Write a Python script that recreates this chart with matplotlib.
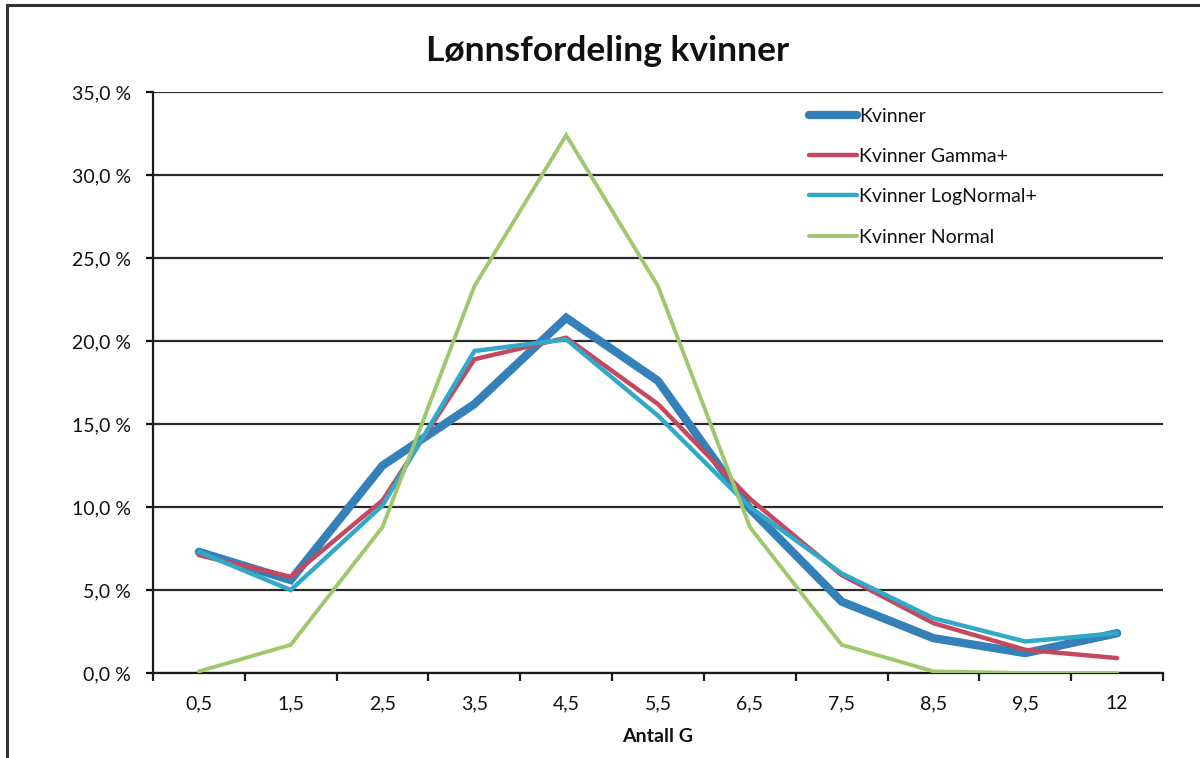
import matplotlib
matplotlib.use("Agg")
import matplotlib.pyplot as plt
from matplotlib.lines import Line2D
from matplotlib.ticker import FuncFormatter

plt.rcParams['font.family'] = ['Lato', 'DejaVu Sans']

# Andel kvinner per lønnsintervall (antall G), i prosent
kategorier = ["0,5", "1,5", "2,5", "3,5", "4,5", "5,5", "6,5", "7,5", "8,5", "9,5", "12"]
kvinner = [7.3, 5.6, 12.5, 16.2, 21.4, 17.6, 9.9, 4.3, 2.1, 1.2, 2.4]
gamma = [7.1, 5.8, 10.4, 18.9, 20.2, 16.2, 10.5, 5.9, 3.0, 1.4, 0.9]
lognormal = [7.3, 5.0, 10.1, 19.4, 20.1, 15.5, 10.0, 6.0, 3.3, 1.9, 2.4]
normal = [0.1, 1.7, 8.8, 23.3, 32.4, 23.3, 8.8, 1.7, 0.1, 0.0, 0.0]

serier = [
    ("Kvinner", kvinner, '#3480b9', 6.0),
    ("Kvinner Gamma+", gamma, '#c4485e', 3.2),
    ("Kvinner LogNormal+", lognormal, '#32a9c9', 3.2),
    ("Kvinner Normal", normal, '#9fc86e', 2.8),
]

fig = plt.figure(figsize=(12, 7.58), dpi=100)
ax = fig.add_axes([0.1275, 0.1121, 0.8417, 0.7665])

x = range(len(kategorier))
for navn, verdier, farge, lw in serier:
    ax.plot(x, verdier, color=farge, lw=lw, label=navn,
            solid_joinstyle='miter', solid_capstyle='round', zorder=3)

ax.set_xlim(-0.5, len(kategorier) - 0.5)
ax.set_ylim(0, 35)
ax.set_yticks(range(0, 36, 5))
ax.yaxis.set_major_formatter(FuncFormatter(lambda v, p: f"{v:.1f} %".replace('.', ',')))
ax.grid(axis='y', color='#2a2a2a', lw=1.6, zorder=1)

ax.set_xticks(list(x))
ax.set_xticklabels(kategorier)
ax.set_xticks([i - 0.5 for i in range(len(kategorier) + 1)], minor=True)
ax.tick_params(axis='x', which='major', length=0, pad=16, labelsize=14, colors='#111111')
ax.tick_params(axis='x', which='minor', length=6, width=1.6, direction='out', color='#1a1a1a')
ax.tick_params(axis='y', length=5, width=1.6, direction='out', pad=11, labelsize=14,
               colors='#111111')

for side in ('top', 'right'):
    ax.spines[side].set_visible(False)
for side in ('left', 'bottom'):
    ax.spines[side].set_color('#1a1a1a')
    ax.spines[side].set_linewidth(1.6)

ax.set_xlabel("Antall G", fontsize=14, fontweight='bold', color='#111111', labelpad=11)
fig.text(0.506, 0.933, "Lønnsfordeling kvinner", fontsize=25.5, fontweight='bold',
         color='#111111', ha='center', va='center')

leg = ax.legend(loc='upper left', bbox_to_anchor=(0.674, 0.858), bbox_transform=fig.transFigure,
                frameon=False, fontsize=14, handlelength=2.5, handletextpad=0.1,
                labelspacing=1.2, borderpad=0, borderaxespad=0)
for t in leg.get_texts():
    t.set_color('#111111')

# ramme rundt diagrammet
fig.add_artist(Line2D([0.006, 1.0], [0.993, 0.993], color='#333333', lw=2.2))
fig.add_artist(Line2D([0.006, 0.006], [0.0, 0.993], color='#333333', lw=2.2))

fig.savefig("out.png", dpi=100)
